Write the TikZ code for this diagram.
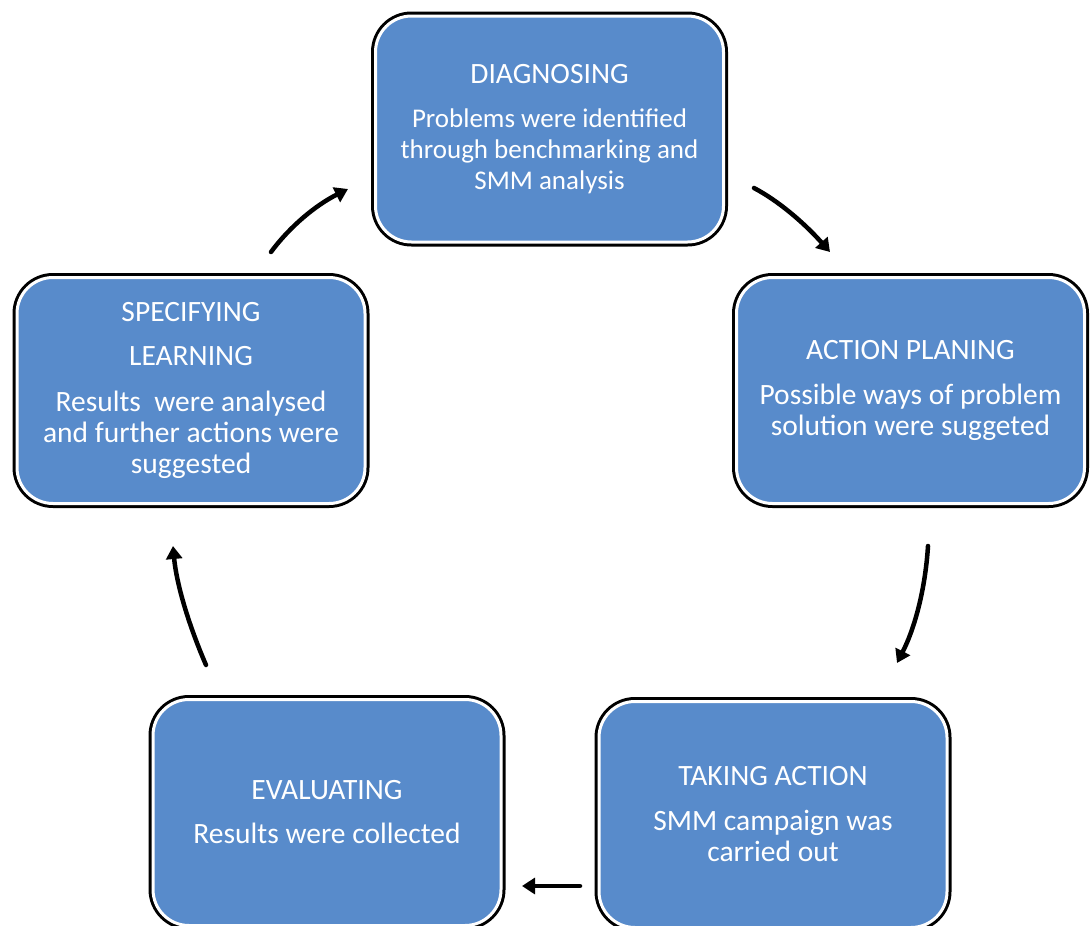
\documentclass[tikz,border=0pt]{standalone}
\usepackage{fontspec}
\setmainfont{Carlito}
\usetikzlibrary{arrows.meta}
\definecolor{boxblue}{RGB}{88,139,203}
\begin{document}
\begin{tikzpicture}[x=1pt,y=-1pt,
  stage/.style={rectangle, rounded corners=36pt, minimum width=348pt, minimum height=226pt,
    inner sep=0pt, fill=boxblue, draw=white, line width=3pt,
    preaction={draw=black, line width=9pt},
    text=white, align=center, font=\fontsize{29.5}{31}\selectfont},
  flow/.style={draw=black, line width=4.5pt, line cap=round, -{Triangle[width=16pt,length=13pt]}}]
\useasboundingbox (0,0) rectangle (1092,926);
\clip (0,0) rectangle (1092,926);
\node[stage] (diag) at (549.5,129) {DIAGNOSING\\[13pt]{\fontsize{27}{29.5}\selectfont Problems were identified}\\{\fontsize{27}{29.5}\selectfont through benchmarking and}\\{\fontsize{27}{29.5}\selectfont SMM analysis}};
\node[stage] (plan) at (910.5,390.5) {ACTION PLANING\\[14pt]Possible ways of problem\\solution were suggeted};
\node[stage] (take) at (773,814.5) {TAKING ACTION\\[14pt]SMM campaign was\\carried out};
\node[stage] (eval) at (327,812.5) {EVALUATING\\[13pt]Results were collected};
\node[stage] (spec) at (191,390.5) {SPECIFYING\\[13pt]LEARNING\\[15pt]Results\ \ were analysed\\and further actions were\\suggested};
\coordinate (a1s) at (271,252); \coordinate (a1e) at (348,189);
\coordinate (a2s) at (754,188); \coordinate (a2e) at (830,252);
\coordinate (a3s) at (928,546); \coordinate (a3e) at (897,663);
\coordinate (a4s) at (580,886); \coordinate (a4e) at (522,886);
\coordinate (a5s) at (206,665); \coordinate (a5e) at (173,546);
\draw[flow] (a1s) .. controls (290.3,226) and (316,205) .. (a1e);
\draw[flow] (a2s) .. controls (778,200.7) and (803.3,222) .. (a2e);
\draw[flow] (a3s) .. controls (925.3,588.7) and (915,627.7) .. (a3e);
\draw[flow] (a4s) -- (a4e);
\draw[flow] (a5s) .. controls (187.3,621.7) and (176.3,582) .. (a5e);
\end{tikzpicture}
\end{document}
